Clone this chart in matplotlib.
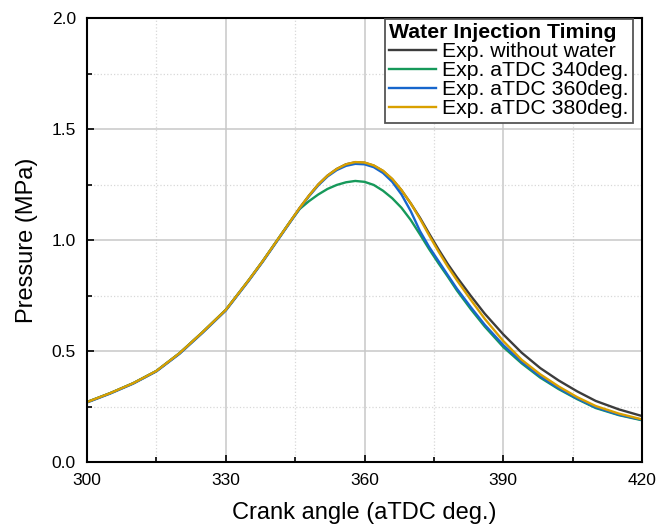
import matplotlib
matplotlib.use("Agg")
import matplotlib.pyplot as plt
from matplotlib.ticker import MultipleLocator, FormatStrFormatter

plt.rcParams['font.family'] = ['Liberation Sans', 'DejaVu Sans']

# Crank angle (aTDC deg.)
angle = [300, 305, 310, 315, 320, 325, 330, 335, 338, 341, 344, 346, 348, 350,
         352, 354, 356, 358, 360, 362, 364, 366, 368, 370, 372, 374, 376, 378,
         380, 383, 386, 390, 394, 398, 402, 406, 410, 415, 420]

# Pressure (MPa)
p_without = [0.270, 0.310, 0.355, 0.410, 0.490, 0.585, 0.685, 0.820, 0.905, 0.995,
             1.085, 1.145, 1.200, 1.250, 1.290, 1.320, 1.341, 1.350, 1.348, 1.335,
             1.311, 1.274, 1.224, 1.165, 1.100, 1.028, 0.958, 0.892, 0.832, 0.748,
             0.668, 0.575, 0.492, 0.423, 0.367, 0.318, 0.275, 0.237, 0.207]
p_340 = [0.270, 0.310, 0.355, 0.410, 0.490, 0.585, 0.685, 0.820, 0.905, 0.995,
         1.085, 1.140, 1.175, 1.205, 1.230, 1.248, 1.260, 1.266, 1.262, 1.248,
         1.222, 1.188, 1.145, 1.090, 1.025, 0.958, 0.895, 0.835, 0.772, 0.688,
         0.610, 0.518, 0.444, 0.380, 0.328, 0.283, 0.243, 0.211, 0.188]
p_360 = [0.268, 0.308, 0.353, 0.408, 0.487, 0.582, 0.682, 0.817, 0.902, 0.992,
         1.082, 1.142, 1.197, 1.246, 1.286, 1.315, 1.334, 1.343, 1.341, 1.328,
         1.302, 1.262, 1.205, 1.130, 1.040, 0.968, 0.905, 0.842, 0.780, 0.697,
         0.618, 0.527, 0.450, 0.385, 0.332, 0.286, 0.246, 0.213, 0.190]
p_380 = [0.270, 0.310, 0.355, 0.410, 0.490, 0.585, 0.685, 0.820, 0.905, 0.995,
         1.085, 1.145, 1.200, 1.250, 1.290, 1.320, 1.341, 1.351, 1.349, 1.336,
         1.312, 1.275, 1.225, 1.165, 1.095, 1.020, 0.948, 0.880, 0.818, 0.730,
         0.645, 0.545, 0.460, 0.395, 0.340, 0.292, 0.252, 0.218, 0.192]

labels = ['Exp. without water', 'Exp. aTDC 340deg.', 'Exp. aTDC 360deg.', 'Exp. aTDC 380deg.']
colors = ['#3c3c3c', '#16995a', '#1766cc', '#d9a000']
series = [p_without, p_340, p_360, p_380]

fig = plt.figure(figsize=(6.57, 5.32), dpi=100)
ax = fig.add_axes([87/657, 70/532, (642-87)/657, (462-18)/532])

for y, c, lab in zip(series, colors, labels):
    ax.plot(angle, y, color=c, lw=1.7, label=lab, solid_joinstyle='round')

ax.set_xlim(300, 420)
ax.set_ylim(0, 2.0)
ax.xaxis.set_major_locator(MultipleLocator(30))
ax.xaxis.set_minor_locator(MultipleLocator(15))
ax.yaxis.set_major_locator(MultipleLocator(0.5))
ax.yaxis.set_minor_locator(MultipleLocator(0.25))
ax.yaxis.set_major_formatter(FormatStrFormatter('%.1f'))

ax.grid(True, which='major', color='#c8c8c8', lw=1.1, ls='-')
ax.grid(True, which='minor', color='#d8d8d8', lw=0.9, ls=':')
ax.set_axisbelow(True)

ax.tick_params(which='both', direction='in', labelsize=12.5, width=1.2, color='black')
ax.tick_params(axis='x', which='major', pad=8)
ax.tick_params(axis='y', which='major', pad=8)
ax.tick_params(which='major', length=5)
ax.tick_params(which='minor', length=3.5)
for s in ax.spines.values():
    s.set_linewidth(1.5)
    s.set_color('black')

ax.set_xlabel('Crank angle (aTDC deg.)', fontsize=17, labelpad=10)
ax.set_ylabel('Pressure (MPa)', fontsize=17, labelpad=10)

leg = ax.legend(title='Water Injection Timing', loc='upper right',
                bbox_to_anchor=((633-87)/555, (462-19)/444), fontsize=15.3,
                title_fontproperties={'weight': 'bold', 'size': 15.3},
                fancybox=False, framealpha=1, edgecolor='#555555',
                handlelength=2.2, handletextpad=0.3, borderpad=0.2,
                labelspacing=0.0, borderaxespad=0.0)
leg._legend_box.align = 'left'
leg.get_frame().set_linewidth(1.3)

fig.savefig('out.png', dpi=100)
